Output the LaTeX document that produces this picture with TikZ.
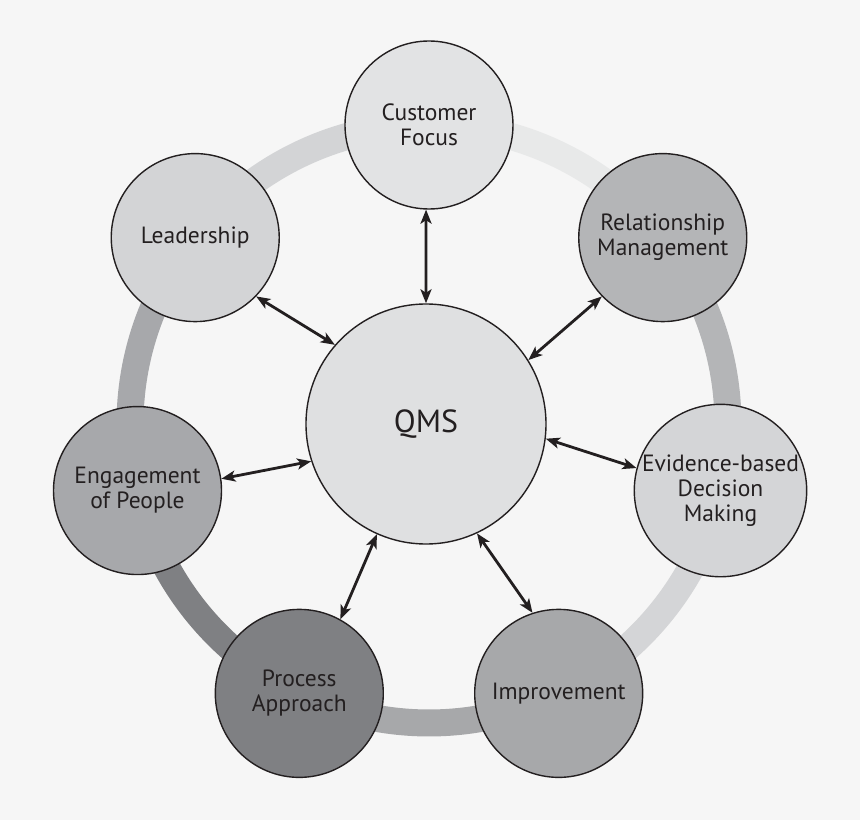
\documentclass[tikz,border=0pt]{standalone}
\usepackage{fontspec}
\setmainfont{PT Sans}
\definecolor{bggray}{HTML}{F6F6F6}
\definecolor{inkgray}{HTML}{231F20}
\definecolor{qmsgray}{HTML}{DFE0E1}
\definecolor{custgray}{HTML}{E2E3E4}
\definecolor{leadgray}{HTML}{D3D4D6}
\definecolor{enggray}{HTML}{A7A8AB}
\definecolor{procgray}{HTML}{7F8083}
\definecolor{imprgray}{HTML}{A7A8AA}
\definecolor{evidgray}{HTML}{D4D5D7}
\definecolor{relgray}{HTML}{B4B5B7}
\usepackage{tikz}
\usetikzlibrary{arrows.meta, positioning, calc}

\tikzset{
  principle/.style={circle, draw=inkgray, line width=1.4pt, minimum size=168pt, inner sep=0pt,
    text=inkgray, align=center, font=\fontsize{23.5}{25}\selectfont},
  ring/.style={line width=27pt, line cap=butt},
  link/.style={{Stealth[length=14pt, width=11pt, inset=3.5pt]}-{Stealth[length=14pt, width=11pt, inset=3.5pt]},
    line width=2.8pt, draw=inkgray}
}

\begin{document}
\begin{tikzpicture}
  \fill[bggray] (-429pt,-396pt) rectangle (431pt,424pt);
  \useasboundingbox (-429pt,-396pt) rectangle (431pt,424pt);

  % the seven principles on the ring
  \coordinate (c) at (0,0);
  \coordinate (p-cust) at (90:299pt);
  \coordinate (p-lead) at (141.43:299pt);
  \coordinate (p-eng) at (192.86:299pt);
  \coordinate (p-proc) at (244.29:299pt);
  \coordinate (p-impr) at (295.71:299pt);
  \coordinate (p-evid) at (347.14:299pt);
  \coordinate (p-rel) at (398.57:299pt);

  % ring segments
  \draw[ring, leadgray] (p-cust) arc[start angle=90, delta angle=51.43, radius=299pt];
  \draw[ring, enggray] (p-lead) arc[start angle=141.43, delta angle=51.43, radius=299pt];
  \draw[ring, procgray] (p-eng) arc[start angle=192.86, delta angle=51.43, radius=299pt];
  \draw[ring, imprgray] (p-proc) arc[start angle=244.29, delta angle=51.43, radius=299pt];
  \draw[ring, evidgray] (p-impr) arc[start angle=295.71, delta angle=51.43, radius=299pt];
  \draw[ring, relgray] (p-evid) arc[start angle=347.14, delta angle=51.43, radius=299pt];
  \draw[ring, custgray!80!white] (p-rel) arc[start angle=398.57, delta angle=51.43, radius=299pt];

  \node[principle, fill=qmsgray, minimum size=240pt, font=\fontsize{32}{36}\selectfont] (qms) at (-3pt,0) {QMS};
  \node[principle, fill=custgray] (cust) at (p-cust) {Customer\\Focus};
  \node[principle, fill=leadgray] (lead) at (p-lead) {Leadership};
  \node[principle, fill=enggray] (eng) at (p-eng) {Engagement\\of People};
  \node[principle, fill=procgray] (proc) at (p-proc) {Process\\Approach};
  \node[principle, fill=imprgray] (impr) at (p-impr) {Improvement};
  \node[principle, fill=evidgray] (evid) at (p-evid) {Evidence-based\\Decision\\Making};
  \node[principle, fill=relgray] (rel) at (p-rel) {Relationship\\Management};

  % links to the centre
  \draw[link] (cust.268) -- (qms.90);
  \draw[link] (lead.316) -- (qms.139.7);
  \draw[link] (rel.224.5) -- (qms.32);
  \draw[link] (qms.353.8) -- (evid.165);
  \draw[link] (eng.8.8) -- (qms.198.4);
  \draw[link] (qms.246.6) -- (proc.61.6);
  \draw[link] (qms.295.1) -- (impr.108.2);
\end{tikzpicture}
\end{document}
